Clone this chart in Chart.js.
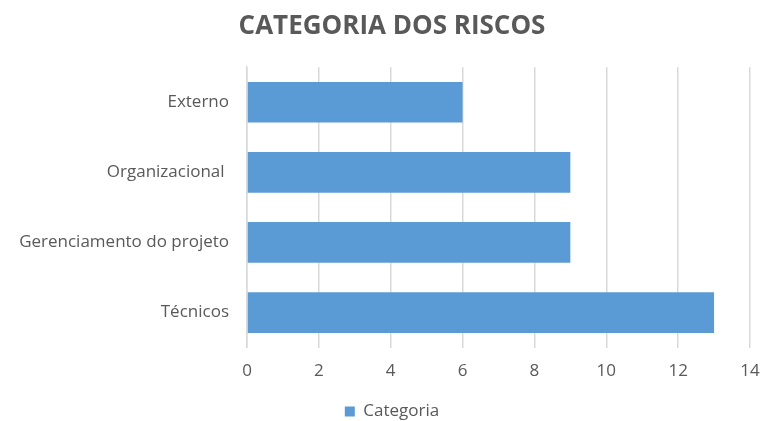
<!DOCTYPE html>
<html><head><meta charset="utf-8">
<script src="https://cdn.jsdelivr.net/npm/chart.js@4"></script>
<style>html,body{margin:0;padding:0;background:#fff}#wrap{width:760px;height:421px}</style>
</head><body><div id="wrap"><canvas id="c" width="760" height="421"></canvas></div>
<script>
const categories = ["Externo", "Organizacional ", "Gerenciamento do projeto", "Técnicos"];
const values = [6, 9, 9, 13];
const seriesName = "Categoria";
const titleText = "CATEGORIA DOS RISCOS";
const xTicks = [0, 2, 4, 6, 8, 10, 12, 14];

const FONT = "'Open Sans', 'Liberation Sans', sans-serif";
const TXT = '#595959';
new Chart(document.getElementById('c'), {
  type: 'bar',
  data: { labels: categories, datasets: [{ label: seriesName, data: values, backgroundColor: '#5B9BD5', borderWidth: 0, barPercentage: 0.58, categoryPercentage: 1 }] },
  options: {
    indexAxis: 'y', responsive: false, animation: false,
    layout: { padding: { left: 4, right: -20, top: 6, bottom: -9 } },
    plugins: {
      title: { display: true, text: titleText, color: TXT, font: { family: FONT, size: 26, weight: 'bold' }, padding: { top: 5, bottom: 25 } },
      legend: { position: 'bottom', labels: { color: TXT, font: { family: FONT, size: 17 }, boxWidth: 10, boxHeight: 10, padding: 1 } },
      tooltip: { enabled: false }
    },
    scales: {
      x: { min: 0, max: 14, afterBuildTicks: s => { s.ticks = xTicks.map(v => ({ value: v })); },
        grid: { color: '#d9d9d9', drawTicks: false, lineWidth: 1.5 }, border: { display: false },
        ticks: { color: TXT, font: { family: FONT, size: 17 }, padding: 13 },
        afterFit: s => { s.paddingRight = 10; s.height += 8; } },
      y: { grid: { display: false }, border: { display: true, color: '#d9d9d9', width: 1.5 },
        ticks: { color: TXT, font: { family: FONT, size: 17 }, padding: 10 },
        afterFit: s => { s.width = 243; } }
    }
  }
});
</script></body></html>
